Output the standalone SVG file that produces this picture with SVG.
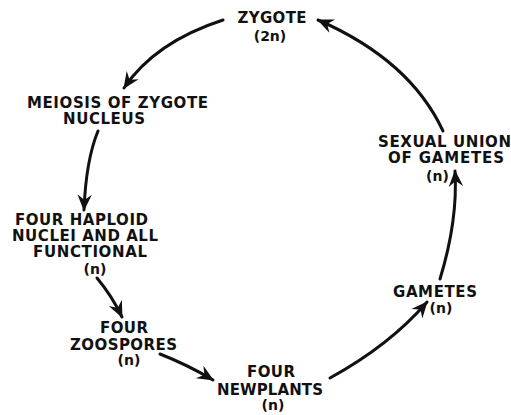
<svg xmlns="http://www.w3.org/2000/svg" width="511" height="415" viewBox="0 0 511 415">
<style>
text{font-family:"DejaVu Sans","Liberation Sans",sans-serif;font-weight:bold;font-size:15px;fill:#111;text-anchor:middle}
text.n{font-size:14px}
.c path{fill:none;stroke:#111;stroke-width:3;stroke-linecap:round}
</style>
<defs>
<marker id="ah" markerUnits="userSpaceOnUse" markerWidth="20" markerHeight="20" viewBox="-16 -8 18 16" refX="0" refY="0" orient="auto">
<path d="M1,0 L-14,-6.5 L-9,0 L-14,6.5 Z" fill="#111"/>
</marker>
</defs>
<rect width="511" height="415" fill="#fff"/>
<g class="c" id="connectors">
<path d="M223,20 Q155,42 124,88" marker-end="url(#ah)"/>
<path d="M443,131 Q410,60 318,20" marker-end="url(#ah)"/>
<path d="M98,131 Q86,160 84,210" marker-end="url(#ah)"/>
<path d="M97,278 Q112,296 122,317" marker-end="url(#ah)"/>
<path d="M160,354 Q188,365 213,380" marker-end="url(#ah)"/>
<path d="M330,378 Q390,345 427,302" marker-end="url(#ah)"/>
<path d="M440,279 Q458,220 455,171" marker-end="url(#ah)"/>
</g>
<g id="zygote">
<text x="272" y="23" textLength="69">ZYGOTE</text>
<text class="n" x="270" y="41">(2n)</text>
</g>
<g id="meiosis">
<text x="117.5" y="108" textLength="181">MEIOSIS OF ZYGOTE</text>
<text x="104" y="124" textLength="82">NUCLEUS</text>
</g>
<g id="haploid">
<text x="81.5" y="225" textLength="133">FOUR HAPLOID</text>
<text x="85" y="241" textLength="146">NUCLEI AND ALL</text>
<text x="90" y="257" textLength="114">FUNCTIONAL</text>
<text class="n" x="95" y="274">(n)</text>
</g>
<g id="zoospores">
<text x="124" y="333" textLength="48">FOUR</text>
<text x="123.5" y="350" textLength="107">ZOOSPORES</text>
<text class="n" x="129" y="365">(n)</text>
</g>
<g id="newplants">
<text x="271" y="377" textLength="48">FOUR</text>
<text x="270" y="395" textLength="106">NEWPLANTS</text>
<text class="n" x="273" y="410">(n)</text>
</g>
<g id="gametes">
<text x="435" y="297" textLength="84">GAMETES</text>
<text class="n" x="441" y="313">(n)</text>
</g>
<g id="sexual-union">
<text x="444.5" y="147" textLength="133">SEXUAL UNION</text>
<text x="446" y="163" textLength="116">OF GAMETES</text>
<text class="n" x="437.5" y="181">(n)</text>
</g>
</svg>
